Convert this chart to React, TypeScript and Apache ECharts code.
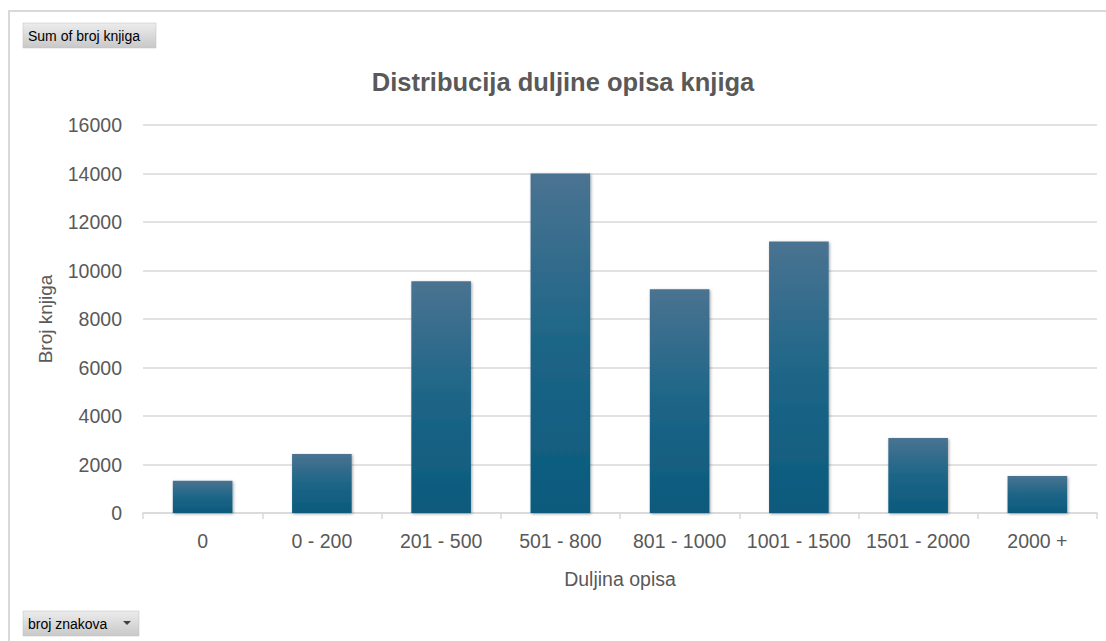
import React, { useEffect, useRef } from "react";
import * as echarts from "echarts";

const categories = ["0", "0 - 200", "201 - 500", "501 - 800", "801 - 1000", "1001 - 1500", "1501 - 2000", "2000 +"];
const values = [1330, 2430, 9560, 14000, 9230, 11200, 3090, 1530];
const chartTitle = "Distribucija duljine opisa knjiga";
const xName = "Duljina opisa";
const yName = "Broj knjiga";
const fieldButtonTop = "Sum of broj knjiga";
const fieldButtonBottom = "broj znakova";

export default function App() {
  const ref = useRef<HTMLDivElement>(null);
  useEffect(() => {
    if (!ref.current) return;
    const chart = echarts.init(ref.current, null, { renderer: "svg" });
    const btnFill = new echarts.graphic.LinearGradient(0, 0, 0, 1, [
      { offset: 0, color: "#ececec" },
      { offset: 1, color: "#c8c8c8" },
    ]);
    chart.setOption({
      animation: false,
      backgroundColor: "#ffffff",
      grid: { left: 143, right: 9, top: 125, bottom: 128, containLabel: false },
      xAxis: {
        type: "category",
        data: categories,
        name: xName,
        nameLocation: "middle",
        nameGap: 56,
        nameTextStyle: { fontSize: 19.5, color: "#595959", fontFamily: "Liberation Sans" },
        axisLine: { lineStyle: { color: "#d9d9d9", width: 1.5 } },
        axisTick: { show: true, length: 6, lineStyle: { color: "#d9d9d9", width: 1.5 } },
        axisLabel: { interval: 0, fontSize: 19.5, color: "#595959", margin: 18, fontFamily: "Liberation Sans" },
      },
      yAxis: {
        type: "value",
        min: 0,
        max: 16000,
        interval: 2000,
        name: yName,
        nameLocation: "middle",
        nameGap: 88,
        nameTextStyle: { fontSize: 19, color: "#595959", fontFamily: "Liberation Sans" },
        axisLine: { show: false },
        axisTick: { show: false },
        axisLabel: {
          fontSize: 19.5,
          color: "#595959",
          margin: 21,
          fontFamily: "Liberation Sans",
          formatter: (v: number) => String(v),
        },
        splitLine: { lineStyle: { color: "#d9d9d9", width: 1.5 } },
      },
      series: [
        {
          type: "bar",
          data: values,
          barWidth: "50%",
          itemStyle: {
            color: new echarts.graphic.LinearGradient(0, 0, 0, 1, [
              { offset: 0, color: "#4a7391" },
              { offset: 0.5, color: "#1d6587" },
              { offset: 1, color: "#0b5a7d" },
            ]),
            shadowBlur: 3,
            shadowColor: "rgba(0,0,0,0.35)",
            shadowOffsetX: 1,
            shadowOffsetY: 1,
          },
        },
      ],
      graphic: [
        {
          type: "rect",
          z: -1,
          shape: { x: 9, y: 11, width: 1200, height: 700 },
          style: { fill: "none", stroke: "#d9d9d9", lineWidth: 2 },
        },
        {
          type: "text",
          x: 563,
          y: 82,
          style: {
            text: chartTitle,
            fontSize: 25.5,
            fontWeight: "bold",
            fill: "#595959",
            fontFamily: "Liberation Sans Narrow, Liberation Sans",
            align: "center",
            verticalAlign: "middle",
          },
        },
        {
          type: "group",
          children: [
            {
              type: "rect",
              shape: { x: 23, y: 23, width: 133, height: 25 },
              style: { fill: btnFill, stroke: "#bdbdbd", lineWidth: 0.5 },
            },
            {
              type: "text",
              x: 28,
              y: 36,
              style: {
                text: fieldButtonTop,
                fontSize: 14,
                fill: "#000000",
                fontFamily: "Liberation Sans Narrow, Liberation Sans",
                verticalAlign: "middle",
              },
            },
          ],
        },
        {
          type: "group",
          children: [
            {
              type: "rect",
              shape: { x: 23, y: 611, width: 116, height: 25 },
              style: { fill: btnFill, stroke: "#bdbdbd", lineWidth: 0.5 },
            },
            {
              type: "text",
              x: 28,
              y: 624,
              style: {
                text: fieldButtonBottom,
                fontSize: 14,
                fill: "#000000",
                fontFamily: "Liberation Sans Narrow, Liberation Sans",
                verticalAlign: "middle",
              },
            },
            {
              type: "polygon",
              shape: { points: [[123, 621], [131, 621], [127, 625]] },
              style: { fill: "#404040" },
            },
          ],
        },
      ],
    });
    return () => chart.dispose();
  }, []);
  return (
    <div
      ref={ref}
      style={{ position: "fixed", left: 0, top: 0, width: 1106, height: 641, background: "#fff" }}
    />
  );
}
